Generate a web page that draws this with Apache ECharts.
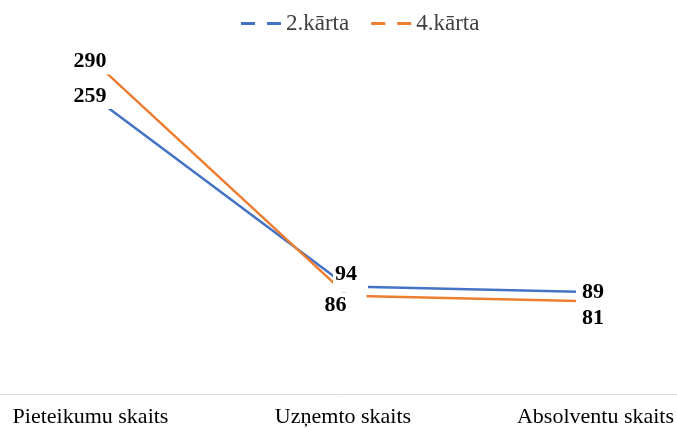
<!DOCTYPE html>
<html>
<head>
<meta charset="utf-8">
<script src="https://cdn.jsdelivr.net/npm/echarts@6/dist/echarts.min.js"></script>
<style>html,body{margin:0;padding:0;background:#fff}#c{width:677px;height:429px}</style>
</head>
<body>
<div id="c"></div>
<script>
var categories = ['Pieteikumu skaits', 'Uzņemto skaits', 'Absolventu skaits'];
var seriesNames = ['2.kārta', '4.kārta'];
var values2 = [259, 94, 89];
var values4 = [290, 86, 81];
var colors = ['#4472C4', '#ED7D31'];
var labelOffsets2 = [[-5, -2], [3, -12], [-7, 0]];
var labelOffsets4 = [[-5, -1], [-4, 10], [-7, 17]];
var labelPads2 = [[2, 6], [1, 11, 13, 2], [2, 6]];
var labelPads4 = [[2, 6], [2, 20, 2, 4], [2, 6]];

var FONT = 'Liberation Serif';
function mkData(vals, offs, pads) {
  return vals.map(function (v, i) {
    return { value: v, label: { offset: offs[i], padding: pads[i] } };
  });
}
var dashIcon = 'path://M0,0h14v3h-14z M26,0h14v3h-14z';
var labelStyle = { show: true, position: 'inside', fontFamily: FONT, fontSize: 22, fontWeight: 'bold', color: '#000', backgroundColor: '#fff', padding: [2, 6] };
var chart = echarts.init(document.getElementById('c'));
chart.setOption({
  animation: false,
  backgroundColor: '#fff',
  legend: {
    top: 7,
    left: 236,
    itemWidth: 40,
    itemHeight: 3,
    itemGap: 22,
    textStyle: { fontFamily: FONT, fontSize: 23, color: '#404040' },
    data: [
      { name: seriesNames[0], icon: dashIcon },
      { name: seriesNames[1], icon: dashIcon }
    ]
  },
  grid: [
    { left: 95, right: 72, top: 51, bottom: 35 },
    { left: 0, right: 0, top: 51, bottom: 35 }
  ],
  xAxis: [
    {
      type: 'category', gridIndex: 0,
      data: categories,
      boundaryGap: false,
      axisLine: { show: false },
      axisTick: { show: false },
      axisLabel: { fontFamily: FONT, fontSize: 22, color: '#000', margin: 12, padding: [0, 9, 0, 0] }
    },
    {
      type: 'category', gridIndex: 1,
      data: categories,
      axisLine: { lineStyle: { color: '#d9d9d9', width: 1 } },
      axisTick: { show: false },
      axisLabel: { show: false }
    }
  ],
  yAxis: [
    { type: 'value', gridIndex: 0, min: 0, max: 300, show: false, splitLine: { show: false } },
    { type: 'value', gridIndex: 1, min: 0, max: 300, show: false, splitLine: { show: false } }
  ],
  series: [
    {
      name: seriesNames[0], type: 'line', data: mkData(values2, labelOffsets2, labelPads2),
      color: colors[0], symbol: 'circle', symbolSize: 1,
      lineStyle: { width: 2.5, color: colors[0] },
      label: labelStyle
    },
    {
      name: seriesNames[1], type: 'line', data: mkData(values4, labelOffsets4, labelPads4),
      color: colors[1], symbol: 'circle', symbolSize: 1,
      lineStyle: { width: 2.5, color: colors[1] },
      label: labelStyle
    }
  ]
});
</script>
</body>
</html>
